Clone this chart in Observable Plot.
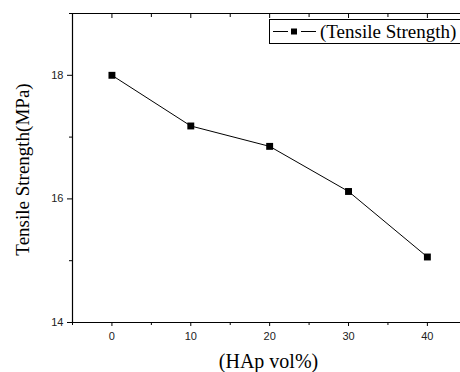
<!DOCTYPE html>
<html><head><meta charset="utf-8">
<script src="https://cdn.jsdelivr.net/npm/d3@7"></script>
<script src="https://cdn.jsdelivr.net/npm/@observablehq/plot@0.6"></script>
<style>
html,body{margin:0;padding:0;background:#fff;overflow:hidden;}
#chart{position:relative;width:460px;height:372px;}
</style></head><body>
<div id="chart"></div>
<script>
const hapVol = [0, 10, 20, 30, 40];
const tensile = [18.0, 17.18, 16.85, 16.12, 15.06];
const xMajorTicks = [0, 10, 20, 30, 40];
const xMinorTicks = [-5, 5, 15, 25, 35];
const yMajorTicks = [14, 16, 18];
const yMinorTicks = [15, 17, 19];
const seriesName = "(Tensile Strength)";
const xLabel = "(HAp vol%)";
const yLabel = "Tensile Strength(MPa)";

const data = hapVol.map((x, i) => ({x, y: tensile[i]}));
const sans = "Liberation Sans, Arial, sans-serif";
const serif = "Liberation Serif, Times New Roman, serif";

const plot = Plot.plot({
  width: 460, height: 372,
  marginLeft: 72, marginTop: 13, marginBottom: 50, marginRight: 0,
  style: {fontFamily: sans, fontSize: "11px", color: "#000", background: "#fff", overflow: "visible"},
  x: {domain: [-5, 44.2]},
  y: {domain: [14, 19]},
  marks: [
    Plot.axisX({ticks: xMajorTicks, tickSize: 4, tickPadding: 6, fontSize: 11, fill: "#222", tickFormat: d3.format("d"), label: null}),
    Plot.axisX({ticks: xMinorTicks, tickSize: 3, text: null, label: null}),
    Plot.axisX({anchor: "top", ticks: xMajorTicks, tickSize: -4, text: null, label: null}),
    Plot.axisX({anchor: "top", ticks: xMinorTicks, tickSize: -3, text: null, label: null}),
    Plot.axisY({ticks: yMajorTicks, tickSize: 5, tickPadding: 4, fontSize: 11, fill: "#222", tickFormat: d3.format("d"), label: null}),
    Plot.axisY({ticks: yMinorTicks, tickSize: 3, text: null, label: null}),
    Plot.ruleX([-5], {stroke: "#000", strokeWidth: 1.2}),
    Plot.ruleY([14, 19], {stroke: "#000", strokeWidth: 1.2}),
    Plot.line(data, {x: "x", y: "y", stroke: "#000", strokeWidth: 1}),
    Plot.dot(data, {x: "x", y: "y", symbol: "square", r: 3.9, fill: "#000", stroke: "none"}),
    Plot.text([yLabel], {frameAnchor: "left", textAnchor: "middle", lineAnchor: "middle", dx: -50, dy: 1.5, rotate: -90, fontFamily: serif, fontSize: 19}),
    Plot.text([xLabel], {frameAnchor: "bottom", textAnchor: "middle", lineAnchor: "middle", dx: 2, dy: 39, fontFamily: serif, fontSize: 20})
  ]
});
document.getElementById("chart").appendChild(plot);

// legend box inside plot
const svg = d3.select(plot);
const g = svg.append("g").attr("class", "legend");
g.append("rect").attr("x", 269.5).attr("y", 19.5).attr("width", 200).attr("height", 24)
  .attr("fill", "#fff").attr("stroke", "#000").attr("stroke-width", 1);
g.append("line").attr("x1", 273).attr("x2", 288).attr("y1", 31.5).attr("y2", 31.5)
  .attr("stroke", "#000").attr("stroke-width", 1);
g.append("line").attr("x1", 301).attr("x2", 316).attr("y1", 31.5).attr("y2", 31.5)
  .attr("stroke", "#000").attr("stroke-width", 1);
g.append("rect").attr("x", 291).attr("y", 28.5).attr("width", 6).attr("height", 6).attr("fill", "#000");
g.append("text").attr("x", 320).attr("y", 31.5).attr("dy", "0.35em").attr("text-anchor", "start")
  .attr("font-family", serif).attr("font-size", 19).text(seriesName);
</script>
</body></html>
